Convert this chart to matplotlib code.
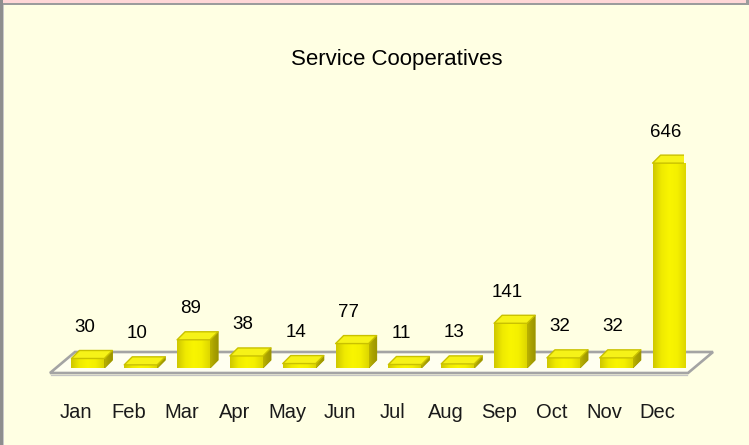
import numpy as np
import matplotlib.pyplot as plt
from matplotlib.colors import LinearSegmentedColormap
from matplotlib.patches import Polygon, Rectangle

# Monthly counts
MONTHS = ["Jan", "Feb", "Mar", "Apr", "May", "Jun",
          "Jul", "Aug", "Sep", "Oct", "Nov", "Dec"]
COUNTS = [30, 10, 89, 38, 14, 77, 11, 13, 141, 32, 32, 646]
TITLE = "Service Cooperatives"

BG = "#FFFFE3"
FRONT_CMAP = LinearSegmentedColormap.from_list(
    "front", ["#CFC700", "#EFEA00", "#F9F500", "#F4F000", "#DDD600"])
SIDE_CMAP = LinearSegmentedColormap.from_list(
    "side", ["#BDB500", "#A9A100", "#9C9500"])
TOP_COLOR = "#F6F218"
EDGE_COLOR = "#C9C100"
FLOOR_EDGE = "#A4A4A4"

plt.rcParams["font.family"] = ["Liberation Sans", "DejaVu Sans"]

W, H = 749, 445
fig = plt.figure(figsize=(W / 100, H / 100), dpi=100, facecolor=BG)


def fig_box(x, y, w, h):
    """Pixel box (from top-left) to figure fraction."""
    return [x / W, 1 - (y + h) / H, w / W, h / H]


# page frame: pink strip on top, grey rules
for box, col in [((0, 0, W, 3.5), "#FFD7D7"),
                 ((0, 3.5, W, 1.6), "#9C9C9C"),
                 ((0, 0, 3, H), "#8E8E8E"),
                 ((3, 5, 1, H), "#C8C8C8"),
                 ((W - 3, 0, 3, 5), "#9C9C9C")]:
    x0, y0, w0, h0 = fig_box(*box)
    fig.patches.append(Rectangle((x0, y0), w0, h0, transform=fig.transFigure,
                                 facecolor=col, edgecolor="none", zorder=5))

fig.text(397 / W, 1 - 59 / H, TITLE, ha="center", va="center", fontsize=16)

ax = fig.add_axes(fig_box(49.5, 146, 634, 222))
ax.axis("off")
XLIM, YLIM = (-0.5, 11.5), (0, 700)
ax.set_xlim(*XLIM)
ax.set_ylim(*YLIM)

ext = ax.get_window_extent()
px_x = ext.width / (XLIM[1] - XLIM[0])
px_y = ext.height / (YLIM[1] - YLIM[0])


def ox(px):
    return px / px_x


def oy(px):
    return px / px_y


# floor
fy0, fy1 = oy(-5), oy(16)
fx0, fx1 = XLIM[0] + ox(0.5), XLIM[1] + ox(4.5)
floor = Polygon([(fx0, fy0), (fx1, fy0), (fx1 + ox(25), fy1), (fx0 + ox(25), fy1)],
                closed=True, facecolor="#FFFFF0", edgecolor=FLOOR_EDGE,
                linewidth=1.9, joinstyle="miter", clip_on=False, zorder=1)
ax.add_patch(floor)
ax.plot([fx0 + ox(1.5), fx1 - ox(1)], [fy0 - oy(2.2)] * 2, color="#C4C4C4",
        linewidth=0.9, clip_on=False, zorder=1)

x = np.arange(len(MONTHS))
width = ox(33)
left = x + ox(12) - width / 2
dx, dy = ox(8), oy(8)

bars = ax.bar(left, COUNTS, width=width, align="edge", color="#F4F000",
              edgecolor=EDGE_COLOR, linewidth=0.7, zorder=3)

grad = np.linspace(0, 1, 64).reshape(1, -1)
for rect, xl, v in zip(bars.patches, left, COUNTS):
    xr = xl + width
    im = ax.imshow(grad, cmap=FRONT_CMAP, extent=(xl, xr, 0, v),
                   aspect="auto", zorder=3.1, interpolation="bicubic")
    im.set_clip_path(rect)
    side = Polygon([(xr, 0), (xr + dx, dy), (xr + dx, v + dy), (xr, v)],
                   closed=True, facecolor="#ADA500", edgecolor="#A39B00",
                   linewidth=0.8, joinstyle="round", zorder=3)
    ax.add_patch(side)
    sim = ax.imshow(grad, cmap=SIDE_CMAP, extent=(xr, xr + dx, 0, v + dy),
                    aspect="auto", zorder=3.05, interpolation="bicubic")
    sim.set_clip_path(side)
    top = Polygon([(xl, v), (xr, v), (xr + dx, v + dy), (xl + dx, v + dy)],
                  closed=True, facecolor=TOP_COLOR, edgecolor=EDGE_COLOR,
                  linewidth=1.0, joinstyle="round", zorder=3.2)
    ax.add_patch(top)
    ax.text(xl + width / 2 - ox(3.5), v + dy + oy(23), str(v),
            ha="center", va="center", fontsize=13.5, zorder=4)

for xi, m in zip(x, MONTHS):
    ax.text(xi, oy(-44), m, ha="center", va="center", fontsize=14.5,
            color="#1A1A1A", clip_on=False)

ax.set_xlim(*XLIM)
ax.set_ylim(*YLIM)

fig.savefig("out.png", dpi=100, facecolor=BG)
